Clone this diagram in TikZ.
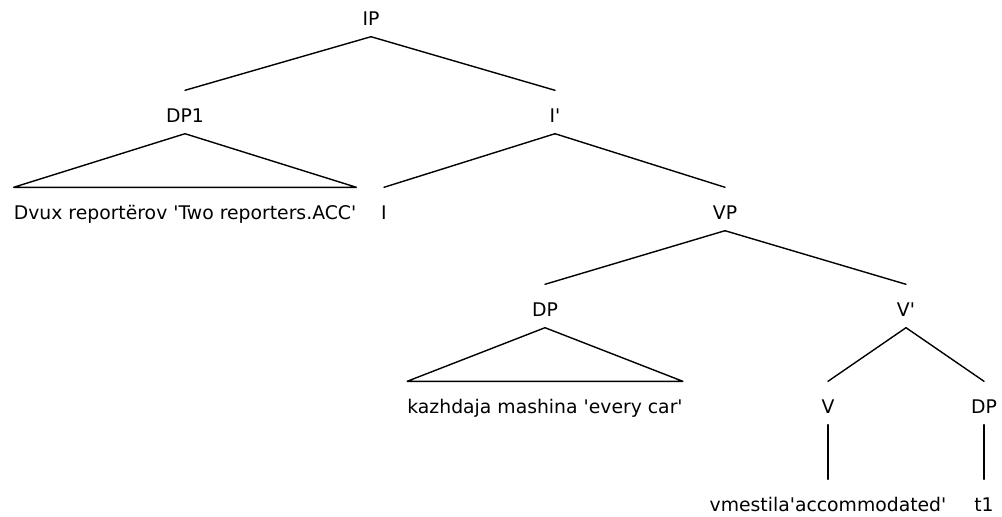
\documentclass[tikz,border=0pt]{standalone}
\usepackage{fontspec}
\setmainfont{DejaVu Sans}
\begin{document}
\begin{tikzpicture}[x=1pt,y=-1pt,
  lbl/.style={anchor=base, inner xsep=0pt, inner ysep=0pt,
    text height=32pt, text depth=11pt,
    font=\fontsize{18.8}{22}\selectfont},
  branch/.style={line width=1.4pt, line cap=round, line join=round}]
\useasboundingbox (0,0) rectangle (1002,517);

% labels, one row per tree level
\node[lbl] (IP)    at (371,25.5)  {IP};
\node[lbl] (DPone) at (185,122.5) {DP1};
\node[lbl] (Ibar)  at (555,122.5) {I\textquotesingle};
\node[lbl] (dvux)  at (185,219.5) {Dvux reportërov \textquotesingle Two reporters.ACC\textquotesingle};
\node[lbl] (I)     at (384,219.5) {I};
\node[lbl] (VP)    at (725,219.5) {VP};
\node[lbl] (DPobj) at (545,316.5) {DP};
\node[lbl] (Vbar)  at (906,316.5) {V\textquotesingle};
\node[lbl] (kazh)  at (545,413.5) {kazhdaja mashina \textquotesingle every car\textquotesingle};
\node[lbl] (V)     at (828,413.5) {V};
\node[lbl] (DPt)   at (984,413.5) {DP};
\node[lbl] (verb)  at (828,511.5) {vmestila\textquotesingle accommodated\textquotesingle};
\node[lbl] (tone)  at (984,511.5) {t1};

% branches
\draw[branch] (IP.south) -- (DPone.north);
\draw[branch] (IP.south) -- (Ibar.north);
\draw[branch] (DPone.south) -- (dvux.north west) -- (dvux.north east) -- cycle;
\draw[branch] (Ibar.south) -- (I.north);
\draw[branch] (Ibar.south) -- (VP.north);
\draw[branch] (VP.south) -- (DPobj.north);
\draw[branch] (VP.south) -- (Vbar.north);
\draw[branch] (DPobj.south) -- (kazh.north west) -- (kazh.north east) -- cycle;
\draw[branch] (Vbar.south) -- (V.north);
\draw[branch] (Vbar.south) -- (DPt.north);
\draw[branch] (V.south) -- (verb.north);
\draw[branch] (DPt.south) -- (tone.north);
\end{tikzpicture}
\end{document}
